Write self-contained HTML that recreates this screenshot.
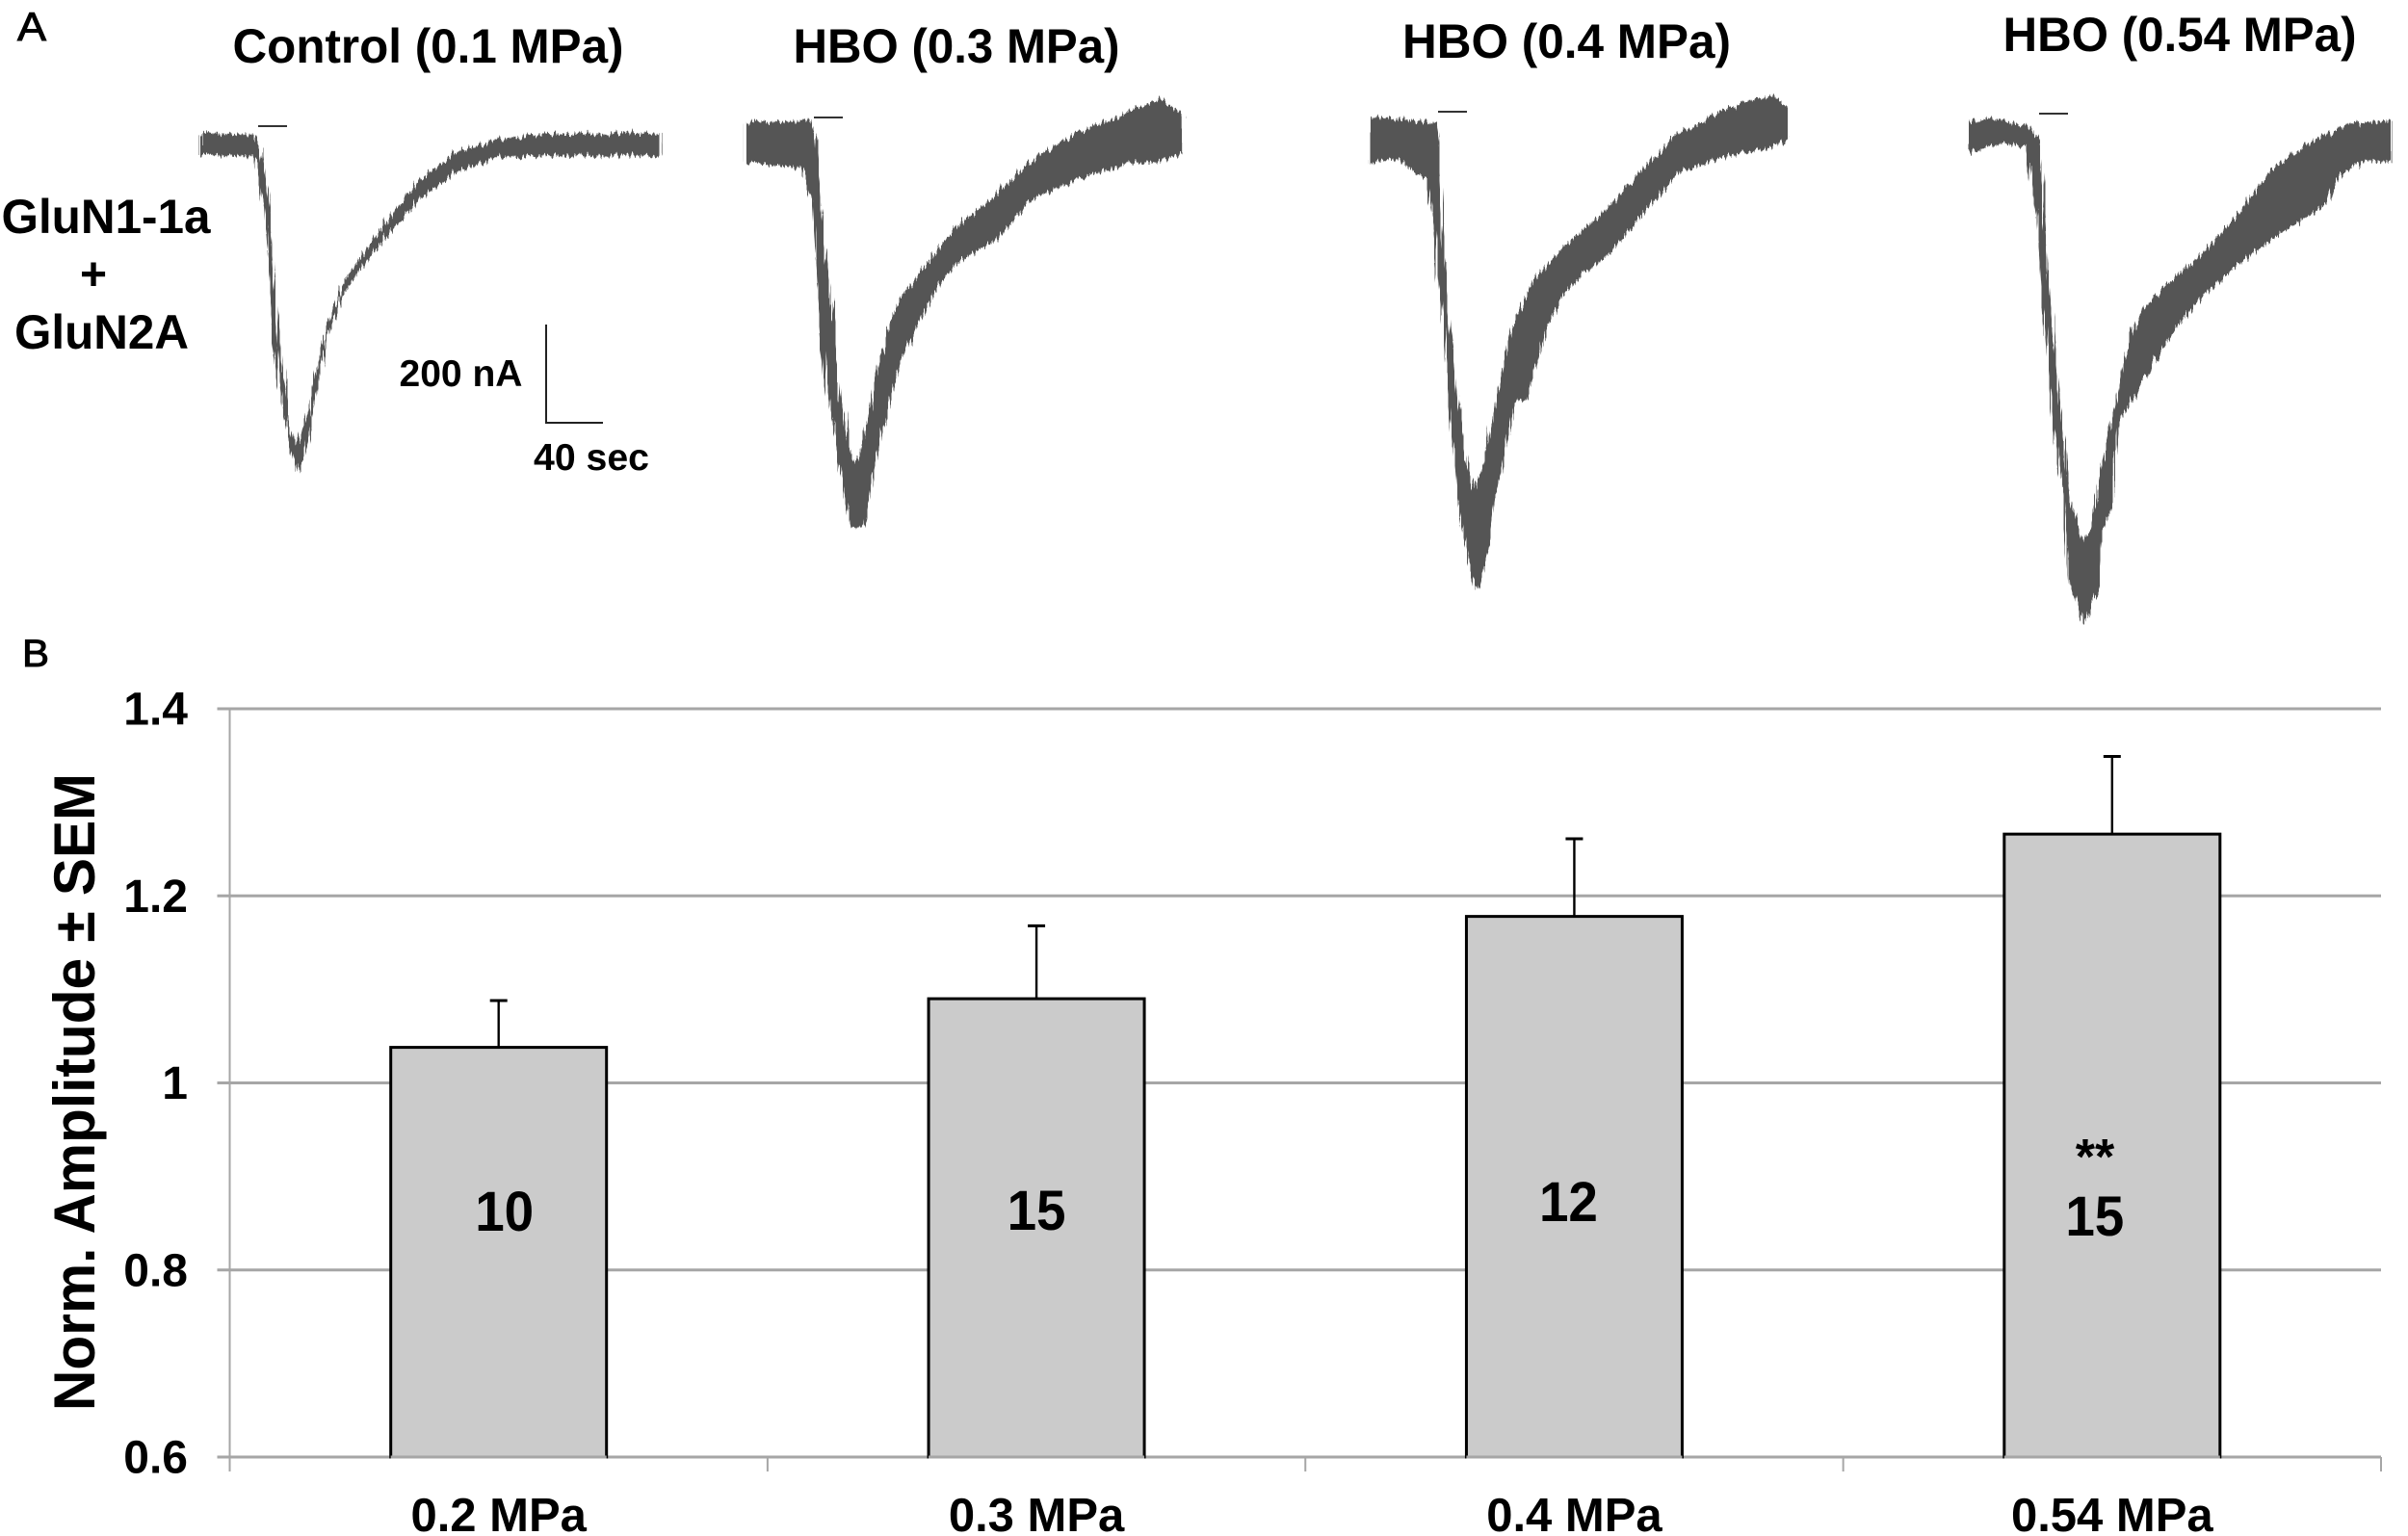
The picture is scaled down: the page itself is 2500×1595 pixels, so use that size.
<!DOCTYPE html>
<html lang="en">
<head>
<meta charset="utf-8">
<title>HBO amplitude figure</title>
<style>
html,body{margin:0;padding:0;background:#fff}
svg{display:block}
text{font-family:"Liberation Sans",Arial,sans-serif;fill:#000}
.b{font-weight:700}
</style>
</head>
<body>
<svg id="fig" xmlns="http://www.w3.org/2000/svg" width="2500" height="1595" viewBox="0 0 2500 1595">
  <defs>
    <filter id="noise" x="0" y="0" width="2500" height="700" filterUnits="userSpaceOnUse">
      <feTurbulence type="fractalNoise" baseFrequency="0.45 0.004" numOctaves="2" seed="4" result="n"/>
      <feDisplacementMap in="SourceGraphic" in2="n" scale="13" xChannelSelector="A" yChannelSelector="R"/>
    </filter>
  </defs>
  <rect x="0" y="0" width="2500" height="1595" fill="#fff"/>
  <text x="18" y="42" font-size="42" textLength="30" lengthAdjust="spacingAndGlyphs" stroke="#000" stroke-width="1">A</text>
  <text x="23" y="692" font-size="40" textLength="28" lengthAdjust="spacingAndGlyphs" stroke="#000" stroke-width="1">B</text>

  <text class="b" x="241.5" y="65" font-size="50" textLength="406" lengthAdjust="spacingAndGlyphs">Control (0.1 MPa)</text>
  <text class="b" x="823.5" y="65" font-size="50" textLength="339" lengthAdjust="spacingAndGlyphs">HBO (0.3 MPa)</text>
  <text class="b" x="1456" y="60" font-size="50" textLength="341" lengthAdjust="spacingAndGlyphs">HBO (0.4 MPa)</text>
  <text class="b" x="2079.5" y="53" font-size="50" textLength="367" lengthAdjust="spacingAndGlyphs">HBO (0.54 MPa)</text>

  <text class="b" x="1.5" y="242" font-size="50" textLength="217" lengthAdjust="spacingAndGlyphs">GluN1-1a</text>
  <text class="b" x="83" y="301" font-size="48">+</text>
  <text class="b" x="15" y="362" font-size="50" textLength="181" lengthAdjust="spacingAndGlyphs">GluN2A</text>

  <g id="traces"></g>

  <g>
    <line x1="567" y1="337" x2="567" y2="440" stroke="#222" stroke-width="2"/>
    <line x1="566" y1="439" x2="626" y2="439" stroke="#222" stroke-width="2"/>
    <text class="b" x="414.5" y="401" font-size="39" textLength="128" lengthAdjust="spacingAndGlyphs">200 nA</text>
    <text class="b" x="554" y="488" font-size="39" textLength="120" lengthAdjust="spacingAndGlyphs">40 sec</text>
  </g>

  <g id="chart"></g>

  <text class="b" transform="translate(98,1134) rotate(-90)" text-anchor="middle" font-size="60" textLength="662" lengthAdjust="spacingAndGlyphs">Norm. Amplitude ± SEM</text>
</svg>

<script>
/* Panel A: closed outlines of each current band; time in seconds, current in nA */
const controlTime = [0,37.3,42.7,48.1,51.9,56.2,61.6,67,70.8,76.2,81.6,87,94,102.2,118.4,140,158.9,183.2,210.3,237.3,323.8,323.8,237.3,210.3,183.2,156.2,134.6,113,99.5,91.4,84.9,79.5,74.1,68.6,64.3,58.9,53.5,49.2,45.4,40,37.3,0];
const controlCurrent = [21,21,-11,-130,-283,-428,-555,-615,-589,-547,-470,-402,-334,-275,-207,-122,-62,-11,10,21,23,-21,-21,-24,-49,-105,-173,-249,-309,-377,-453,-547,-623,-666,-623,-555,-428,-283,-130,-37,-21,-21];

const hbo03Time = [0,44.9,48.6,51.9,57.3,62.7,66.5,71.9,76.2,80,85.4,93.5,101.6,109.7,123.2,147.6,171.9,198.9,231.4,269.2,290.8,307,307,290.8,269.2,231.4,198.9,177.3,147.6,134.1,117.8,107,96.2,88.1,82.7,73.5,66.5,61.1,55.7,50.3,46.5,39.5,0];
const hbo03Current = [42,47,4,-132,-268,-404,-514,-616,-650,-634,-565,-455,-361,-310,-259,-170,-115,-38,21,64,94,55,-21,-34,-38,-72,-115,-191,-242,-293,-378,-455,-574,-685,-778,-778,-668,-574,-472,-285,-115,-47,-38];

const hbo04Time = [0,45.9,48.6,51.4,56.8,62.2,67.6,74.1,81.1,89.2,100,116.2,137.8,164.9,186.5,213.5,240.5,267.6,283.8,295.7,295.7,283.8,262.2,240.5,218.9,200,178.4,164.9,151.4,137.8,124.3,116.2,110.8,102.7,97.3,89.2,83.8,75.7,70.3,63.2,57.8,52.4,45.9,40.5,18.9,0];
const hbo04Current = [42,30,-60,-196,-366,-536,-655,-723,-663,-536,-391,-289,-221,-153,-85,0,42,76,85,64,0,-17,-30,-47,-68,-128,-204,-247,-272,-315,-383,-485,-531,-536,-612,-723,-833,-923,-859,-731,-570,-383,-187,-85,-42,-51];

const hbo054Time = [0,18.4,42.7,48.1,51.9,56.2,61.6,67,71.4,80.5,85.9,91.4,96.8,102.2,107.6,118.4,137.3,164.3,185.9,213,240,267,296.8,296.8,277.8,261.6,250.8,218.4,185.9,158.9,142.7,126.5,104.9,102.2,102.2,94,91.4,80.5,72.4,67,58.9,53.5,48.1,41.1,23.8,0];
const hbo054Current = [28,34,17,-13,-132,-319,-489,-625,-744,-829,-799,-710,-625,-565,-472,-370,-310,-242,-174,-72,-13,21,30,-51,-51,-81,-140,-200,-268,-344,-404,-480,-582,-659,-744,-804,-914,-995,-914,-727,-574,-387,-174,-21,-14,-34];

/* Panel B: bar chart values */
const categories = ['0.2 MPa','0.3 MPa','0.4 MPa','0.54 MPa'];
const meanValues = [1.038,1.09,1.178,1.266];
const semValues = [0.05,0.078,0.083,0.083];
const sampleCounts = ['10','15','12','15'];
const yTickValues = [1.4,1.2,1,0.8,0.6];
const yTickLabels = ['1.4','1.2','1','0.8','0.6'];

const NS = 'http://www.w3.org/2000/svg';
function make(tag, attrs, text) {
  const el = document.createElementNS(NS, tag);
  for (const k in attrs) el.setAttribute(k, attrs[k]);
  if (text !== undefined) el.textContent = text;
  return el;
}

/* Trace axes: 59 px per 40 s, 102 px per 200 nA */
const traceLayer = document.getElementById('traces');
function drawTrace(label, times, currents, originX, originY, barX, barY) {
  const sx = t => originX + t * 59 / 40;
  const sy = i => originY - i * 102 / 200;
  const d = times.map((t, k) => (k ? 'L' : 'M') + sx(t).toFixed(1) + ' ' + sy(currents[k]).toFixed(1)).join(' ') + ' Z';
  const band = make('path', {d: d, fill: '#555', stroke: '#555', 'stroke-width': 1, 'stroke-linejoin': 'round', filter: 'url(#noise)'});
  
  
  traceLayer.appendChild(band);
  const stim = make('line', {x1: barX, x2: barX + 30, y1: barY, y2: barY, stroke: '#333', 'stroke-width': 2});
  
  
  traceLayer.appendChild(stim);
}
drawTrace('control', controlTime, controlCurrent, 208, 150.5, 268, 131);
drawTrace('hbo-0-3', hbo03Time, hbo03Current, 774.9, 149.6, 845, 122);
drawTrace('hbo-0-4', hbo04Time, hbo04Current, 1421.4, 143.1, 1493, 116);
drawTrace('hbo-0-54', hbo054Time, hbo054Current, 2044, 140.9, 2117, 118);

/* Bar chart axes */
const chart = document.getElementById('chart');
const plotLeft = 238.5, plotRight = 2472, plotTop = 736, plotBottom = 1513;
const yMin = 0.6, yMax = 1.4;
const yScale = v => plotBottom - (v - yMin) / (yMax - yMin) * (plotBottom - plotTop);
const band = (plotRight - plotLeft) / categories.length;
const xCenter = i => plotLeft + band * (i + 0.5);
const barWidth = 224;
const gridColor = '#a6a6a6';

yTickValues.forEach((v, i) => {
  const y = yScale(v);
  const grid = make('line', {x1: plotLeft - 13, x2: plotRight, y1: y, y2: y, stroke: gridColor, 'stroke-width': 3});
  
  
  chart.appendChild(grid);
  const lab = make('text', {x: 195, y: y + 16.5, 'text-anchor': 'end', 'font-size': 48, 'font-weight': 700}, yTickLabels[i]);
  
  
  chart.appendChild(lab);
});

const yAxis = make('line', {x1: plotLeft, x2: plotLeft, y1: plotTop, y2: plotBottom + 15, stroke: gridColor, 'stroke-width': 2});


chart.appendChild(yAxis);

for (let i = 1; i <= categories.length; i++) {
  const x = plotLeft + band * i;
  const tick = make('line', {x1: x, x2: x, y1: plotBottom, y2: plotBottom + 15, stroke: gridColor, 'stroke-width': 2});
  
  
  chart.appendChild(tick);
}

categories.forEach((c, i) => {
  const cx = xCenter(i);
  const top = yScale(meanValues[i]);
  const errTop = yScale(meanValues[i] + semValues[i]);

  const stem = make('line', {x1: cx, x2: cx, y1: errTop, y2: top, stroke: '#000', 'stroke-width': 2.4});
  
  
  chart.appendChild(stem);

  const cap = make('line', {x1: cx - 9, x2: cx + 9, y1: errTop, y2: errTop, stroke: '#000', 'stroke-width': 3});
  
  
  chart.appendChild(cap);

  const bar = make('rect', {x: cx - barWidth / 2, y: top, width: barWidth, height: plotBottom - top, fill: '#cbcbcb', stroke: '#000', 'stroke-width': 3});
  
  
  chart.appendChild(bar);

  const base = make('line', {x1: cx - barWidth / 2, x2: cx + barWidth / 2, y1: plotBottom, y2: plotBottom, stroke: gridColor, 'stroke-width': 3});
  
  
  chart.appendChild(base);

  const xl = make('text', {x: cx, y: 1590, 'text-anchor': 'middle', 'font-size': 49, 'font-weight': 700}, c);
  
  
  chart.appendChild(xl);
});

/* Sample-count labels sit at hand-placed offsets inside each bar, as in the figure */
const countOffsetX = [6, 0, -6, -18];
const countBaseline = [1278, 1277, 1268, 1283];
sampleCounts.forEach((n, i) => {
  const t = make('text', {x: xCenter(i) + countOffsetX[i], y: countBaseline[i], 'text-anchor': 'middle', 'font-size': 58, 'font-weight': 700, textLength: 61, lengthAdjust: 'spacingAndGlyphs'}, n);
  
  
  chart.appendChild(t);
});

const sig = make('text', {x: 2175, y: 1219, 'text-anchor': 'middle', 'font-size': 52, 'font-weight': 700}, '**');


chart.appendChild(sig);
</script>
</body>
</html>
